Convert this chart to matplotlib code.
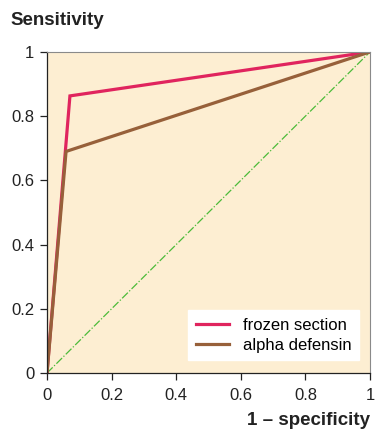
import numpy as np
import matplotlib
matplotlib.use("Agg")
from matplotlib import pyplot as plt

plt.rcParams['font.family'] = ['Liberation Sans', 'DejaVu Sans']

# ROC points
fpr_frozen = [0, 0.071, 1]
tpr_frozen = [0, 0.863, 1]
fpr_alpha = [0, 0.059, 1]
tpr_alpha = [0, 0.69, 1]
ticks = [0, 0.2, 0.4, 0.6, 0.8, 1]
tick_labels = ["0", "0.2", "0.4", "0.6", "0.8", "1"]

fig = plt.figure(figsize=(3.76, 4.29), dpi=100)
ax = fig.add_axes([0.125, 0.1305, 0.859, 0.7485])
ax.set_facecolor("#fdeed2")

ax.plot([0, 1], [0, 1], color="#4cbb3a", lw=0.9, ls="-.")
ax.plot(fpr_frozen, tpr_frozen, color="#e0245e", lw=2.3, label="frozen section", solid_joinstyle="miter")
ax.plot(fpr_alpha, tpr_alpha, color="#97603a", lw=2.3, label="alpha defensin", solid_joinstyle="miter")

ax.set_xlim(0, 1)
ax.set_ylim(0, 1)
ax.set_xticks(ticks)
ax.set_xticklabels(tick_labels)
ax.set_yticks(ticks)
ax.set_yticklabels(tick_labels)
ax.tick_params(direction="out", length=5, width=0.9, labelsize=12, colors="#222222", pad=4)
ax.tick_params(axis="x", pad=6)
for s in ["top", "right"]:
    ax.spines[s].set_color("#8a8a8a")
    ax.spines[s].set_linewidth(0.8)
for s in ["left", "bottom"]:
    ax.spines[s].set_color("#222222")
    ax.spines[s].set_linewidth(0.9)

leg = ax.legend(loc="lower right", bbox_to_anchor=(0.965, 0.04), frameon=True, fancybox=False,
                fontsize=12, handlelength=2.0, borderpad=0.45, labelspacing=0.3, handletextpad=0.8,
                borderaxespad=0)
leg.get_frame().set_facecolor("white")
leg.get_frame().set_edgecolor("white")
leg.get_frame().set_alpha(1)

fig.text(0.027, 0.953, "Sensitivity", fontsize=13.5, fontweight="bold", color="#222222", va="center", ha="left")
fig.text(0.985, 0.02, "1 \u2013 specificity", fontsize=13.5, fontweight="bold", color="#222222", va="center", ha="right")

fig.savefig("out.png", dpi=100)
